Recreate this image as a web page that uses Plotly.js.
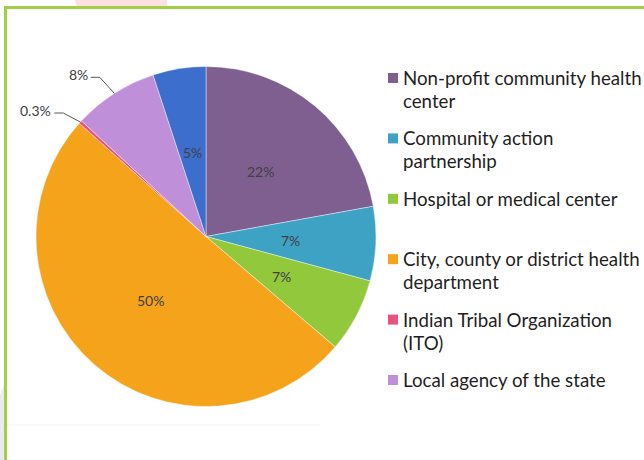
<!DOCTYPE html>
<html><head><meta charset="utf-8">
<script src="https://cdn.plot.ly/plotly-3.0.1.min.js"></script>
<style>html,body{margin:0;padding:0;background:#fff;overflow:hidden}#chart{width:644px;height:460px}</style>
</head><body><div id="chart"></div>
<script>
// ---- data ----
const labels = [
  'Non-profit community health center',
  'Community action partnership',
  'Hospital or medical center',
  'City, county or district health department',
  'Indian Tribal Organization (ITO)',
  'Local agency of the state',
  'Other'
];
const values = [22, 7, 7, 50, 0.3, 8, 5];
const colors = ['#7f5f90', '#3ea2c4', '#92c83c', '#f5a31b', '#e8527c', '#c08fda', '#3c6ece'];
const legendText = [
  'Non-profit community health<br>center',
  'Community action<br>partnership',
  'Hospital or medical center',
  'City, county or district health<br>department',
  'Indian Tribal Organization<br>(ITO)',
  'Local agency of the state'
];

// ---- layout helpers ----
const W = 644, H = 460;
const px = x => x / W;
const py = y => 1 - y / H;
const CX = 206, CY = 236.5, R = 170;
const FONT = 'Lato, "Open Sans", sans-serif';
// labels placed outside with a leader line: slice index -> elbow offset (px)
const outside = {4: [-17, -9], 5: [-14.5, -16]};

const total = values.reduce((a, b) => a + b, 0);
const annotations = [];
const shapes = [];
let cum = 0;
values.forEach((v, i) => {
  const th = 2 * Math.PI * (cum + v / 2) / total;
  cum += v;
  const txt = v + '%';
  if (outside[i]) {
    const P = [CX + R * Math.sin(th), CY - R * Math.cos(th)];
    const E = [P[0] + outside[i][0], P[1] + outside[i][1]];
    const F = [E[0] - 9, E[1]];
    shapes.push({type: 'path', xref: 'paper', yref: 'paper',
      path: `M ${px(P[0])},${py(P[1])} L ${px(E[0])},${py(E[1])} L ${px(F[0])},${py(F[1])}`,
      line: {color: '#595959', width: 1}});
    annotations.push({xref: 'paper', yref: 'paper', x: px(F[0] - 1), y: py(F[1] - 3),
      xanchor: 'right', yanchor: 'middle', text: txt, showarrow: false,
      font: {family: FONT, size: 14, color: '#404040'}});
  } else {
    const r = R * 0.5;
    annotations.push({xref: 'paper', yref: 'paper',
      x: px(CX + r * Math.sin(th)), y: py(CY - r * Math.cos(th)),
      xanchor: 'center', yanchor: 'middle', text: txt, showarrow: false,
      font: {family: FONT, size: 14, color: '#404040'}});
  }
});

// custom legend (the reference legend is cut off after six entries)
const LX = 388, LY0 = 78, LSTEP = 60.4, LLINE = 23;
legendText.forEach((t, i) => {
  const yc = LY0 + i * LSTEP;
  shapes.push({type: 'rect', xref: 'paper', yref: 'paper',
    x0: px(LX), x1: px(LX + 10), y0: py(yc - 5), y1: py(yc + 5),
    fillcolor: colors[i], line: {width: 0}});
  t.split('<br>').forEach((line, k) => {
    annotations.push({xref: 'paper', yref: 'paper', x: px(LX + 13), y: py(yc + k * LLINE),
      xanchor: 'left', yanchor: 'middle', text: line, showarrow: false,
      font: {family: FONT, size: 18.7, color: '#1f1f1f'}});
  });
});

// background decorations (slide artefacts and frame)
shapes.unshift(
  {type: 'path', xref: 'paper', yref: 'paper', layer: 'below',
   path: `M ${px(75)},${py(0)} L ${px(167)},${py(0)} L ${px(167.5)},${py(7)} L ${px(77)},${py(7)} Z`,
   fillcolor: '#fde0e0', line: {width: 0}},
  {type: 'path', xref: 'paper', yref: 'paper', layer: 'below',
   path: `M ${px(0)},${py(395)} L ${px(4)},${py(385)} L ${px(4)},${py(460)} L ${px(0)},${py(460)} Z`,
   fillcolor: '#e9e9ef', line: {width: 0}},
  {type: 'line', xref: 'paper', yref: 'paper', layer: 'below',
   x0: px(6), x1: px(320), y0: py(425), y1: py(425), line: {color: '#f2f2f2', width: 1}},
  {type: 'rect', xref: 'paper', yref: 'paper', layer: 'below',
   x0: px(5.5), x1: px(700), y0: py(7.5), y1: py(520),
   fillcolor: 'rgba(0,0,0,0)', line: {color: '#a2cf45', width: 3}}
);

const data = [{
  type: 'pie',
  labels: labels,
  values: values,
  sort: false,
  direction: 'clockwise',
  rotation: 0,
  textinfo: 'none',
  hoverinfo: 'label+percent',
  showlegend: false,
  marker: {colors: colors, line: {color: 'rgba(255,255,255,0.6)', width: 0.7}},
  domain: {x: [px(CX - R), px(CX + R)], y: [py(CY + R), py(CY - R)]}
}];

const layout = {
  width: W, height: H,
  margin: {l: 0, r: 0, t: 0, b: 0},
  paper_bgcolor: '#ffffff',
  showlegend: false,
  annotations: annotations,
  shapes: shapes,
  font: {family: FONT}
};

Plotly.newPlot('chart', data, layout, {displayModeBar: false, staticPlot: true});
</script>
</body></html>
